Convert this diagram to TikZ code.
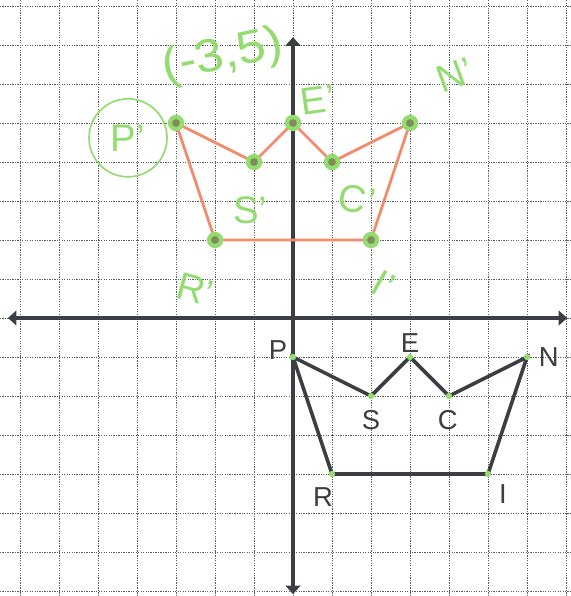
\documentclass[tikz,border=0pt]{standalone}
\usepackage{fontspec}
\setmainfont{Liberation Sans}
\usetikzlibrary{arrows.meta,positioning}
\definecolor{ink}{HTML}{3B3E42}
\definecolor{gridink}{HTML}{5A5C5E}
\definecolor{pen}{HTML}{F38A6C}
\definecolor{marker}{HTML}{93DC70}
\definecolor{dotcore}{HTML}{7C6A52}

\begin{document}
\begin{tikzpicture}[
  gridline/.style={draw=gridink,line width=0.7pt,dash pattern=on 0.9pt off 0.9pt},
  axisline/.style={draw=ink,line width=3pt,{Triangle[width=3.8mm,length=2.2mm]}-{Triangle[width=3.8mm,length=2.2mm]}},
  crown/.style={draw=ink,line width=2.6pt,line join=miter},
  movedcrown/.style={draw=pen,line width=2pt},
  lbl/.style={text=ink,font=\fontsize{20}{24}\selectfont,inner sep=0pt},
  hand/.style={text=marker,font=\fontsize{28}{32}\selectfont,inner sep=0pt},
  bigdot/.style={circle,fill=marker,minimum size=4.2mm,inner sep=0pt},
  smalldot/.style={circle,fill=marker,minimum size=1.6mm,inner sep=0pt},
]
\useasboundingbox (-7.513,-7.128) rectangle (7.103,8.154);
\fill[white] (-7.513,-7.128) rectangle (7.103,8.154);
\draw[gridline] (-7.513,-7.128) grid (7.103,8.154);

% axes
\coordinate (xleft) at (-7.31,0);
\coordinate (xright) at (7.03,0);
\coordinate (ybottom) at (0,-7.08);
\coordinate (ytop) at (0,7.2);
\draw[axisline] (xleft) -- (xright);
\draw[axisline] (ybottom) -- (ytop);

% original figure PESCNIR
\coordinate (P) at (0,-1);
\coordinate (S) at (2,-2);
\coordinate (E) at (3,-1);
\coordinate (C) at (4,-2);
\coordinate (N) at (6,-1);
\coordinate (I) at (5,-4);
\coordinate (R) at (1,-4);
\draw[crown] (P) -- (S) -- (E) -- (C) -- (N) -- (I) -- (R) -- cycle;
\foreach \v in {P,S,E,C,N,I,R} \node[smalldot] at (\v) {};

\node[lbl] (labP) at (-0.385,-0.82) {P};
\node[lbl] (labE) at (3.0,-0.64) {E};
\node[lbl] (labN) at (6.56,-1.0) {N};
\node[lbl] (labS) at (2.0,-2.62) {S};
\node[lbl] (labC) at (3.97,-2.62) {C};
\node[lbl] (labR) at (0.77,-4.59) {R};
\node[lbl] (labI) at (5.38,-4.51) {I};

% translated figure
\coordinate (Pt) at (-3,5);
\coordinate (St) at (-1,4);
\coordinate (Et) at (0,5);
\coordinate (Ct) at (1,4);
\coordinate (Nt) at (3,5);
\coordinate (It) at (2,2);
\coordinate (Rt) at (-2,2);
\draw[movedcrown] (Pt) -- (St) -- (Et) -- (Ct) -- (Nt) -- (It) -- (Rt) -- cycle;
\foreach \v in {Pt,St,Et,Ct,Nt,It,Rt} {
  \node[bigdot] at (\v) {};
  \fill[dotcore,opacity=0.7] (\v) circle (0.1);
}

\node[hand,font=\fontsize{34}{38}\selectfont,rotate=12,xscale=1.1] (coordPt) at (-1.80,6.70) {(-3,5)};
\node[hand,draw=marker,line width=1.2pt,circle,minimum size=2cm] (labPt) at (-4.23,4.62) {P'};
\node[hand] (labSt) at (-1.10,2.77) {S'};
\node[hand,rotate=8] (labEt) at (0.64,5.59) {E'};
\node[hand,rotate=-10] (labCt) at (1.64,3.03) {C'};
\node[hand,rotate=20] (labNt) at (4.15,6.23) {N'};
\node[hand,rotate=-30] (labIt) at (2.31,0.85) {I'};
\node[hand,rotate=-15] (labRt) at (-2.51,0.72) {R'};
\end{tikzpicture}
\end{document}
